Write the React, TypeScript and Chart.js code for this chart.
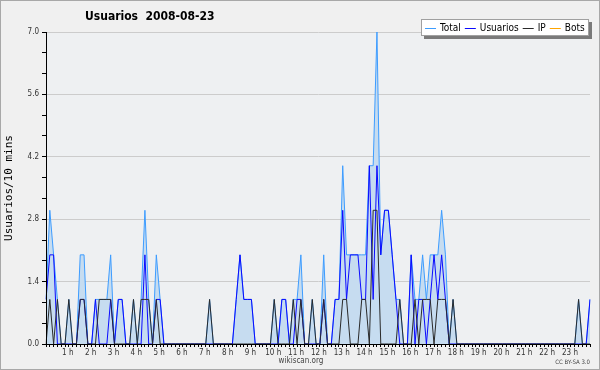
import React, { useEffect, useRef } from 'react';
import { Chart, registerables } from 'chart.js';

Chart.register(...registerables);

const chartTitle = 'Usuarios  2008-08-23';
const yAxisTitle = 'Usuarios/10 mins';
const footerText = 'wikiscan.org';
const licenseText = 'CC BY-SA 3.0';

const hourLabels = [
  '1 h', '2 h', '3 h', '4 h', '5 h', '6 h', '7 h', '8 h', '9 h', '10 h', '11 h', '12 h',
  '13 h', '14 h', '15 h', '16 h', '17 h', '18 h', '19 h', '20 h', '21 h', '22 h', '23 h',
];
const slotsPerHour = 6;

// one value per 10-minute slot, 6 per row = one hour per row
const totalValues = [
  1, 3, 2, 1, 0, 0,
  1, 0, 0, 2, 2, 0,
  0, 1, 1, 1, 1, 2,
  0, 1, 1, 0, 0, 1,
  0, 1, 3, 1, 0, 2,
  1, 0, 0, 0, 0, 0,
  0, 0, 0, 0, 0, 0,
  0, 1, 0, 0, 0, 0,
  0, 0, 1, 2, 1, 1,
  1, 0, 0, 0, 0, 0,
  1, 0, 1, 1, 0, 1,
  1, 2, 0, 0, 1, 0,
  0, 2, 0, 0, 1, 1,
  4, 2, 2, 2, 2, 2,
  2, 4, 4, 7, 2, 3,
  3, 2, 1, 1, 0, 0,
  2, 1, 1, 2, 1, 2,
  2, 2, 3, 2, 0, 1,
  0, 0, 0, 0, 0, 0,
  0, 0, 0, 0, 0, 0,
  0, 0, 0, 0, 0, 0,
  0, 0, 0, 0, 0, 0,
  0, 0, 0, 0, 0, 0,
  0, 0, 1, 0, 0, 1,
];

const usuariosValues = [
  1, 2, 2, 0, 0, 0,
  0, 0, 0, 1, 1, 0,
  0, 1, 0, 0, 0, 1,
  0, 1, 1, 0, 0, 0,
  0, 0, 2, 0, 0, 1,
  1, 0, 0, 0, 0, 0,
  0, 0, 0, 0, 0, 0,
  0, 0, 0, 0, 0, 0,
  0, 0, 1, 2, 1, 1,
  1, 0, 0, 0, 0, 0,
  0, 0, 1, 1, 0, 0,
  1, 1, 0, 0, 0, 0,
  0, 1, 0, 0, 1, 1,
  3, 1, 2, 2, 2, 1,
  1, 4, 1, 4, 2, 3,
  3, 2, 1, 0, 0, 0,
  2, 0, 1, 1, 0, 1,
  2, 1, 2, 1, 0, 0,
  0, 0, 0, 0, 0, 0,
  0, 0, 0, 0, 0, 0,
  0, 0, 0, 0, 0, 0,
  0, 0, 0, 0, 0, 0,
  0, 0, 0, 0, 0, 0,
  0, 0, 0, 0, 0, 1,
];

const ipValues = [
  0, 1, 0, 1, 0, 0,
  1, 0, 0, 1, 1, 0,
  0, 0, 1, 1, 1, 1,
  0, 0, 0, 0, 0, 1,
  0, 1, 1, 1, 0, 1,
  0, 0, 0, 0, 0, 0,
  0, 0, 0, 0, 0, 0,
  0, 1, 0, 0, 0, 0,
  0, 0, 0, 0, 0, 0,
  0, 0, 0, 0, 0, 0,
  1, 0, 0, 0, 0, 1,
  0, 1, 0, 0, 1, 0,
  0, 1, 0, 0, 0, 0,
  1, 1, 0, 0, 0, 1,
  1, 0, 3, 3, 0, 0,
  0, 0, 0, 1, 0, 0,
  0, 1, 0, 1, 1, 1,
  0, 1, 1, 1, 0, 1,
  0, 0, 0, 0, 0, 0,
  0, 0, 0, 0, 0, 0,
  0, 0, 0, 0, 0, 0,
  0, 0, 0, 0, 0, 0,
  0, 0, 0, 0, 0, 0,
  0, 0, 1, 0, 0, 0,
];

const botsValues = [
  0, 0, 0, 0, 0, 0, 0, 0, 0, 0, 0, 0, 0, 0, 0, 0, 0, 0, 0, 0, 0, 0, 0, 0,
  0, 0, 0, 0, 0, 0, 0, 0, 0, 0, 0, 0, 0, 0, 0, 0, 0, 0, 0, 0, 0, 0, 0, 0,
  0, 0, 0, 0, 0, 0, 0, 0, 0, 0, 0, 0, 0, 0, 0, 0, 0, 0, 0, 0, 0, 0, 0, 0,
  0, 0, 0, 0, 0, 0, 0, 0, 0, 0, 0, 0, 0, 0, 0, 0, 0, 0, 0, 0, 0, 0, 0, 0,
  0, 0, 0, 0, 0, 0, 0, 0, 0, 0, 0, 0, 0, 0, 0, 0, 0, 0, 0, 0, 0, 0, 0, 0,
  0, 0, 0, 0, 0, 0, 0, 0, 0, 0, 0, 0, 0, 0, 0, 0, 0, 0, 0, 0, 0, 0, 0, 0,
];

const yTickLabels = ['0.0', '1.4', '2.8', '4.2', '5.6', '7.0'];
const yMinorPerMajor = 3;

const legendOrder = ['Total', 'Usuarios', 'IP', 'Bots'];

const SANS = '"DejaVu Sans Condensed", "DejaVu Sans", sans-serif';

const framePlugin = {
  id: 'framePlugin',
  beforeDraw(chart: any) {
    const { ctx, chartArea, width, height } = chart;
    ctx.save();
    ctx.fillStyle = '#f0f0f0';
    ctx.fillRect(0, 0, width, height);
    ctx.fillStyle = '#eef0f2';
    ctx.fillRect(chartArea.left, chartArea.top, chartArea.right - chartArea.left, chartArea.bottom - chartArea.top);
    ctx.restore();
  },
  afterDraw(chart: any) {
    const { ctx, width, height } = chart;
    ctx.save();
    // outer frame
    ctx.strokeStyle = '#a8a8a8';
    ctx.lineWidth = 1;
    ctx.strokeRect(0.5, 0.5, width - 1, height - 1);

    // title
    ctx.fillStyle = '#000';
    ctx.font = 'bold 12px ' + SANS;
    ctx.textBaseline = 'middle';
    ctx.textAlign = 'left';
    ctx.fillText(chartTitle, 85, 17);

    // footer
    ctx.fillStyle = '#444';
    ctx.font = '8px ' + SANS;
    ctx.textAlign = 'center';
    ctx.fillText(footerText, 301, 361);
    ctx.font = '6px ' + SANS;
    ctx.textAlign = 'right';
    ctx.fillText(licenseText, 590, 362);

    // legend
    ctx.font = '10px ' + SANS;
    ctx.textAlign = 'left';
    const items = legendOrder
      .map((lbl) => chart.data.datasets.find((d: any) => d.label === lbl))
      .filter(Boolean);
    const lineLen = 11;
    const gapLine = 4;
    const gapText = 4;
    const padX = 4;
    let w = padX * 2 - gapText;
    items.forEach((d: any) => {
      w += lineLen + gapLine + ctx.measureText(d.label).width + gapText;
    });
    w = Math.round(w);
    const right = 589;
    const top = 19;
    const h = 17;
    const left = right - w;
    ctx.fillStyle = '#7a7a7a';
    ctx.fillRect(left + 3, top + 3, w, h);
    ctx.fillStyle = '#ffffff';
    ctx.fillRect(left, top, w, h);
    ctx.strokeStyle = '#a0a0a0';
    ctx.strokeRect(left + 0.5, top + 0.5, w - 1, h - 1);
    let x = left + padX;
    const cy = top + h / 2;
    items.forEach((d: any) => {
      ctx.strokeStyle = d.borderColor;
      ctx.lineWidth = 1;
      ctx.beginPath();
      ctx.moveTo(x, Math.round(cy) + 0.5);
      ctx.lineTo(x + lineLen, Math.round(cy) + 0.5);
      ctx.stroke();
      x += lineLen + gapLine;
      ctx.fillStyle = '#000';
      ctx.fillText(d.label, x, cy + 0.5);
      x += ctx.measureText(d.label).width + gapText;
    });
    ctx.restore();
  },
};

export default function App() {
  const canvasRef = useRef<HTMLCanvasElement | null>(null);

  useEffect(() => {
    document.body.style.margin = '0';
    const canvas = canvasRef.current;
    if (!canvas) return;

    const xLabels = totalValues.map((_, i) =>
      i % slotsPerHour === 0 && i > 0 ? hourLabels[i / slotsPerHour - 1] : ''
    );
    const yMajors = yTickLabels.map((s) => parseFloat(s));

    const common = {
      pointRadius: 0,
      pointHoverRadius: 0,
      borderWidth: 1,
      tension: 0,
    };

    const chart = new Chart(canvas, {
      type: 'line',
      data: {
        labels: xLabels,
        datasets: [
          {
            ...common,
            label: 'Total',
            data: totalValues,
            borderColor: '#3d9cff',
            backgroundColor: '#c6dcf0',
            fill: 'origin',
            order: 4,
          },
          {
            ...common,
            label: 'Usuarios',
            data: usuariosValues,
            borderColor: '#0a0aff',
            fill: false,
            order: 3,
          },
          {
            ...common,
            label: 'IP',
            data: ipValues,
            borderColor: '#2a2a2a',
            fill: false,
            order: 1,
          },
          {
            ...common,
            label: 'Bots',
            data: botsValues,
            borderColor: '#ffa500',
            fill: false,
            order: 5,
          },
        ],
      },
      options: {
        responsive: false,
        animation: false,
        events: [],
        layout: { padding: { left: 0, right: 10, top: 32, bottom: 0 } },
        plugins: {
          legend: { display: false },
          tooltip: { enabled: false },
          title: { display: false },
        },
        scales: {
          x: {
            type: 'category',
            offset: false,
            grid: {
              display: true,
              drawOnChartArea: false,
              drawTicks: true,
              tickLength: 3,
              color: '#000',
              tickColor: '#000',
              z: 1,
            },
            border: { display: true, color: '#000', width: 1, z: 1 },
            ticks: {
              autoSkip: false,
              maxRotation: 0,
              minRotation: 0,
              padding: 1,
              labelOffset: -1,
              color: '#333',
              font: { family: SANS, size: 8 },
            },
            afterFit: (s: any) => {
              s.height = 26;
            },
          },
          y: {
            type: 'linear',
            min: yMajors[0],
            max: yMajors[yMajors.length - 1],
            afterBuildTicks: (s: any) => {
              const ticks: any[] = [];
              for (let k = 0; k < yMajors.length - 1; k++) {
                const a = yMajors[k];
                const b = yMajors[k + 1];
                for (let m = 0; m < yMinorPerMajor; m++) {
                  ticks.push({ value: a + ((b - a) * m) / yMinorPerMajor });
                }
              }
              ticks.push({ value: yMajors[yMajors.length - 1] });
              s.ticks = ticks;
            },
            grid: {
              color: (c: any) => (c.index % yMinorPerMajor === 0 ? '#cccccc' : 'rgba(0,0,0,0)'),
              tickColor: '#000',
              tickLength: 4,
              drawTicks: true,
            },
            border: { display: true, color: '#000', width: 1, z: 1 },
            ticks: {
              autoSkip: false,
              padding: 3,
              color: '#333',
              font: { family: SANS, size: 8 },
              callback: (_v: any, i: number) =>
                i % yMinorPerMajor === 0 ? yTickLabels[i / yMinorPerMajor] : '',
            },
            title: {
              display: true,
              text: yAxisTitle,
              color: '#000',
              font: { family: '"DejaVu Sans Mono", monospace', size: 11 },
              padding: { top: 3, bottom: 0 },
            },
            afterFit: (s: any) => {
              s.width = 46;
            },
          },
        },
      },
      plugins: [framePlugin],
    } as any);

    return () => {
      chart.destroy();
    };
  }, []);

  return <canvas ref={canvasRef} width={600} height={370} style={{ display: 'block', width: 600, height: 370 }} />;
}
